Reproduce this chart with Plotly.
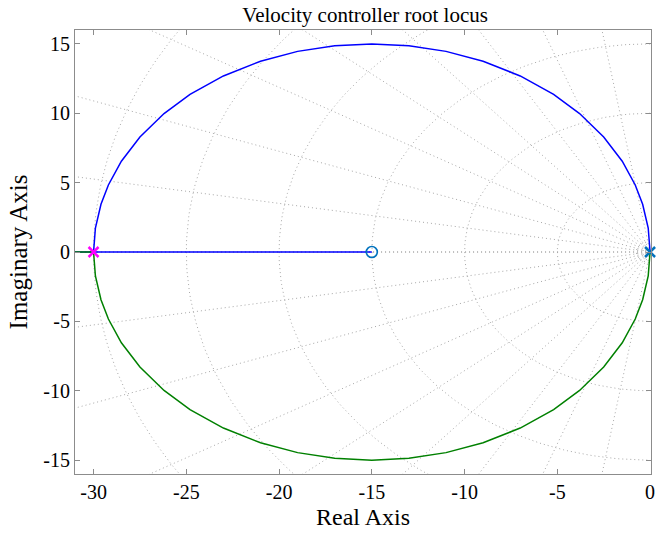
import numpy as np
import plotly.graph_objects as go

# Root locus branches
upper_re = [-30, -29.9, -29.6, -29.2, -28.5, -27.5, -26.2, -24.8, -23, -21, -19, -17, -15,
            -13, -11, -9, -7, -5.2, -3.8, -2.5, -1.5, -0.8, -0.4, -0.1, 0]
upper_im = [0, 1.73, 3.44, 4.83, 6.54, 8.29, 9.98, 11.36, 12.69, 13.75, 14.46, 14.87, 15.0,
            14.87, 14.46, 13.75, 12.69, 11.36, 9.98, 8.29, 6.54, 4.83, 3.44, 1.73, 0]
lower_re = upper_re
lower_im = [-v for v in upper_im]
real_blue_re = [-31, -15]
real_blue_im = [0, 0]
real_green_re = [-31, -30]
real_green_im = [0, 0]

poles_re = [-30, 0]
zeros_re = [-15]

# s-plane grid values
zetas = [0.16, 0.34, 0.5, 0.64, 0.76, 0.86, 0.94, 0.985, 1.0]
wns = [0.4, 0.75, 5, 10, 15, 20, 25, 30, 35]

xticks = [-30, -25, -20, -15, -10, -5, 0]
yticks = [-15, -10, -5, 0, 5, 10, 15]

FONT = "Liberation Serif"
GRID = "#a8a8a8"
AX = "#8c8c8c"
DOT = "1px,3px"

fig = go.Figure()

# grid: damping lines
R = 60
for z in zetas:
    th = np.arccos(z)
    for sgn in (1, -1):
        fig.add_trace(go.Scatter(x=[0, -R * np.cos(th)], y=[0, sgn * R * np.sin(th)],
                                 mode="lines", line=dict(color=GRID, width=1, dash=DOT),
                                 hoverinfo="skip", showlegend=False))
# grid: natural frequency semicircles
ang = np.linspace(np.pi / 2, 3 * np.pi / 2, 200)
for w in wns:
    fig.add_trace(go.Scatter(x=w * np.cos(ang), y=w * np.sin(ang), mode="lines",
                             line=dict(color=GRID, width=1, dash=DOT),
                             hoverinfo="skip", showlegend=False))

# locus
fig.add_trace(go.Scatter(x=upper_re, y=upper_im, mode="lines",
                         line=dict(color="#0000ff", width=1.5), showlegend=False))
fig.add_trace(go.Scatter(x=real_blue_re, y=real_blue_im, mode="lines",
                         line=dict(color="#0000ff", width=1.5), showlegend=False))
fig.add_trace(go.Scatter(x=lower_re, y=lower_im, mode="lines",
                         line=dict(color="#008000", width=1.5), showlegend=False))
fig.add_trace(go.Scatter(x=real_green_re, y=real_green_im, mode="lines",
                         line=dict(color="#008000", width=1.5), showlegend=False))

# zero and poles
fig.add_trace(go.Scatter(x=zeros_re, y=[0] * len(zeros_re), mode="markers",
                         marker=dict(symbol="circle-open", size=11, color="#0072BD",
                                     line=dict(width=1.6, color="#0072BD")),
                         showlegend=False, cliponaxis=False))
fig.add_trace(go.Scatter(x=[poles_re[1]], y=[0], mode="markers",
                         marker=dict(symbol="x-thin-open", size=10, color="#0072BD",
                                     line=dict(width=2.5, color="#0072BD")),
                         showlegend=False, cliponaxis=False))
fig.add_trace(go.Scatter(x=[poles_re[0]], y=[0], mode="markers",
                         marker=dict(symbol="x-thin-open", size=10, color="#ff00ff",
                                     line=dict(width=2.5, color="#ff00ff")),
                         showlegend=False, cliponaxis=False))

axis_common = dict(showgrid=False, zeroline=False, showline=True, linecolor=AX, linewidth=1,
                   mirror="ticks", ticks="inside", ticklen=5, tickcolor=AX,
                   ticklabeloverflow="allow",
                   tickfont=dict(family=FONT, size=20, color="#000"))

fig.update_layout(
    width=656, height=536,
    margin=dict(l=75, r=1, t=30, b=62),
    paper_bgcolor="white", plot_bgcolor="white",
    title=dict(text="Velocity controller root locus", x=0.5566, xanchor="center",
               y=0.972, yanchor="middle",
               font=dict(family=FONT, size=21, color="#000")),
    xaxis=dict(range=[-31, 0.05], tickvals=xticks, ticktext=[str(t) for t in xticks],
               title=dict(text="Real Axis", font=dict(family=FONT, size=24, color="#000"),
                          standoff=6),
               **axis_common),
    yaxis=dict(range=[-16, 16], tickvals=yticks, ticktext=[str(t) for t in yticks],
               title=dict(text="Imaginary Axis", font=dict(family=FONT, size=25, color="#000"),
                          standoff=8),
               **axis_common),
)

fig.write_html("out.html")
